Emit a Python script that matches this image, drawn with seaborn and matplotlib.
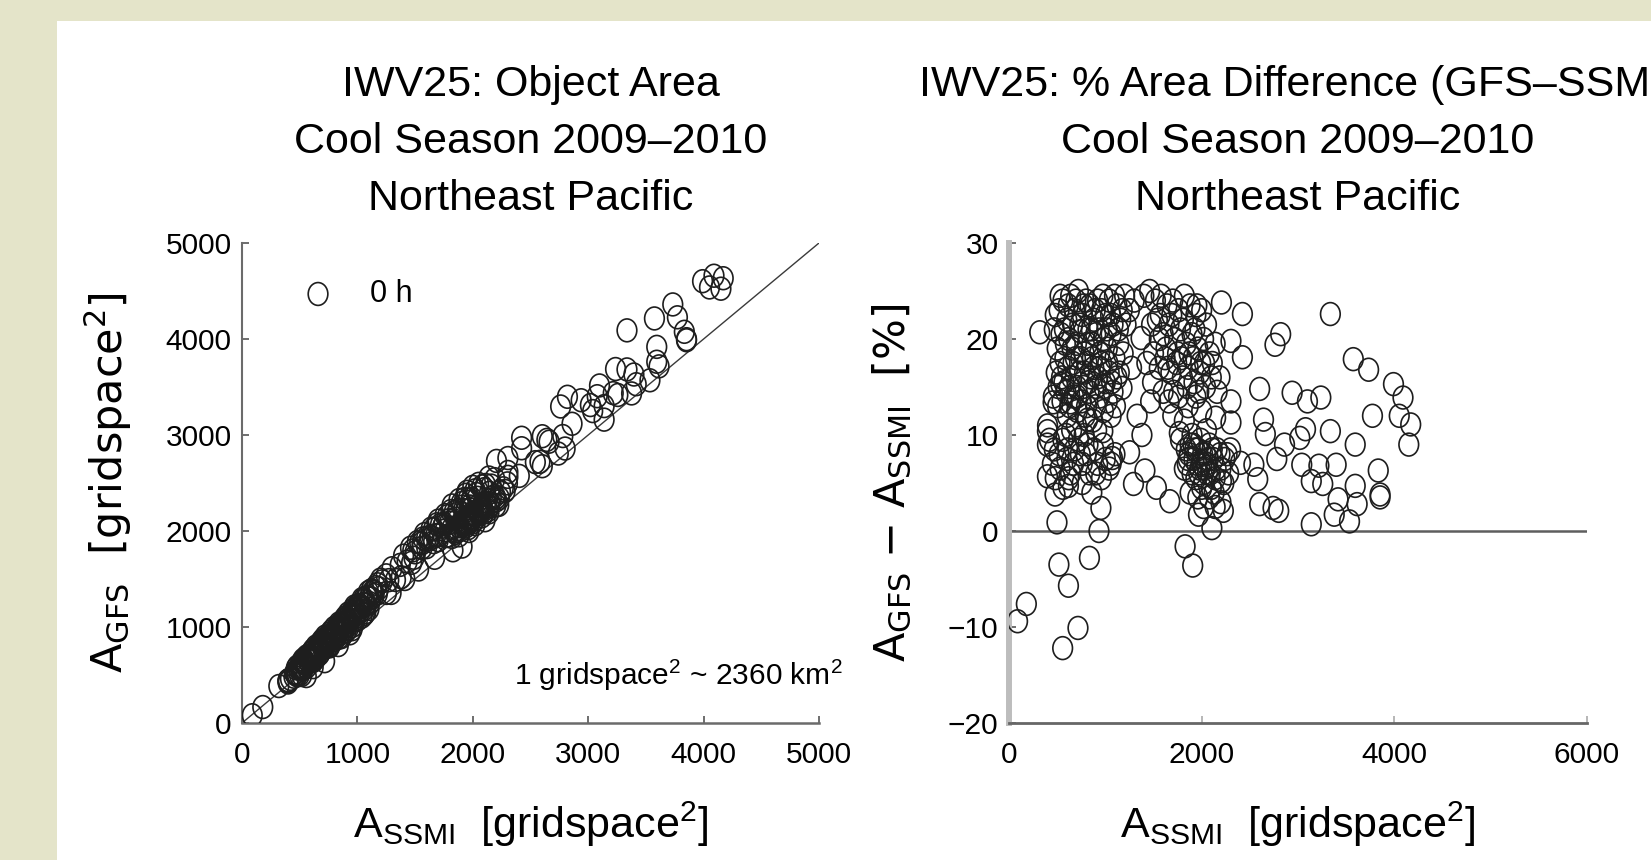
import matplotlib
matplotlib.use("Agg")
import matplotlib.pyplot as plt
import seaborn as sns
import pandas as pd
from matplotlib.path import Path
from matplotlib.transforms import Affine2D
from matplotlib.patches import Rectangle

# ---------------- data ----------------
# A_SSMI object area [gridspace^2]
ssmi = [
    470, 520, 560, 600, 640, 680, 720, 760, 800, 500, 540, 580, 620, 660, 700, 740, 780, 820,
    490, 530, 570, 610, 650, 690, 730, 770, 810, 850, 460, 510, 550, 590, 630, 670, 710, 750, 790, 830,
    840, 880, 920, 960, 1000, 1040, 1080, 1120, 1160, 1200, 1250, 1300,
    860, 900, 940, 980, 1020, 1060, 1100, 1140, 880, 920, 960, 1000, 1040, 1080, 1120,
    900, 940, 980, 1020, 1060, 870, 910,
    480, 530, 575, 615, 655, 695, 735, 775, 815, 855, 895, 935, 975, 1015, 1055, 1095, 1135, 1175, 1215,
    545, 585, 625, 665, 705, 745, 785, 825, 865, 905, 945, 985, 1025, 1065,
    505, 605, 705, 805, 1105, 1145, 1185,
    1400, 1460, 1520, 1580, 1640, 1700, 1760, 1820, 1880, 1940, 2000,
    1480, 1540, 1600, 1660, 1720, 1780, 1840, 1900, 1960, 2020, 2080, 2140,
    1500, 1560, 1620, 1680, 1740, 1800, 1860, 1920, 1980, 2040, 2100, 2160,
    1600, 1660, 1760, 1860, 1940, 2000, 1700, 1820,
    1570, 1630, 1690, 1750, 1810, 1870, 1930, 1990, 2050, 1650,
    1710, 1790, 1850, 1910, 1970, 2030, 2110, 2190, 1560, 1950,
    1780, 1840, 1880, 1920, 1960, 2000, 2040, 2080, 2120, 2160,
    1820, 1860, 1900, 1940, 1980, 2020, 2060, 2100, 2140, 2200, 2240, 2280,
    1880, 1960, 2020, 2080, 2140, 2200, 1900, 2050, 2300,
    1870, 1910, 1950, 1990, 2010, 2030, 2070, 2110, 2150, 2190,
    1930, 1970, 2050, 2090, 1850, 2230, 2000, 2130,
    400, 420, 450, 480, 520, 560, 600, 640, 680, 720, 760, 800, 840, 880, 920, 960, 1000, 1040, 1100,
    650, 700, 780, 560, 620, 760, 860,
    470, 530, 590, 670, 740, 820, 900, 980, 1060, 610,
    3336, 319, 2205, 2423, 2820, 2761, 2423, 3574, 3733, 3991,
    4090, 3773, 4051, 4170, 4150, 2602, 2939, 3098, 3237, 3336,
    3594, 2642, 2661, 2860, 3019, 3078, 2780, 3039, 3217, 3396,
    3833, 3852, 3852, 3594, 3416, 3614, 3376, 3535, 3138, 3138,
    3257, 2582, 2542, 2602, 2741, 2800, 2403, 2264, 2205, 2225,
    2106, 1967, 1828, 1907, 1669, 1530, 1411, 1292, 1252, 1073,
    954, 934, 835, 498, 518, 617, 180, 89, 716, 557,
    478, 399, 617, 399, 399, 458, 538, 637, 815, 974,
    1768, 2304, 2304, 2145, 1470, 1490, 1173, 1272, 1431, 1371,
    2304, 1330, 1380,
]

# A_GFS object area [gridspace^2]
gfs = [
    569, 640, 694, 732, 797, 836, 900, 931, 992, 595, 651, 684, 744, 802, 837, 894, 924, 992,
    571, 623, 658, 714, 754, 814, 850, 886, 952, 986, 524, 587, 624, 676, 712, 764, 799, 851, 885, 950,
    1037, 1074, 1141, 1181, 1225, 1290, 1312, 1383, 1415, 1494, 1538, 1612,
    1028, 1085, 1114, 1176, 1214, 1277, 1298, 1362, 1030, 1067, 1128, 1155, 1212, 1237, 1299,
    1017, 1072, 1103, 1158, 1187, 970, 1006,
    588, 660, 696, 760, 779, 862, 893, 957, 974, 1035, 1101, 1131, 1214, 1228, 1292, 1363, 1373, 1445, 1476,
    632, 699, 719, 781, 811, 879, 915, 953, 1021, 1041, 1106, 1133, 1204, 1230,
    571, 678, 804, 910, 1249, 1334, 1404,
    1743, 1825, 1885, 1967, 2025, 2108, 2165, 2266, 2322, 2377, 2460,
    1798, 1879, 1928, 2017, 2064, 2154, 2199, 2290, 2332, 2424, 2465, 2557,
    1778, 1825, 1912, 1957, 2045, 2088, 2176, 2218, 2307, 2346, 2436, 2473,
    1832, 1884, 2006, 2102, 2212, 2250, 1904, 2029,
    1923, 1940, 2070, 2074, 2208, 2216, 2335, 2338, 2491, 1931,
    1958, 2112, 2128, 2254, 2256, 2385, 2479, 2540, 1872, 2408,
    1949, 1996, 2049, 2064, 2127, 2140, 2203, 2267, 2279, 2344,
    1938, 2000, 2014, 2047, 2109, 2121, 2184, 2195, 2258, 2343, 2408, 2417,
    1955, 2029, 2071, 2153, 2194, 2266, 2090, 2265, 2496,
    2020, 2082, 2087, 2179, 2171, 2162, 2225, 2289, 2290, 2365,
    2094, 2088, 2194, 2215, 1980, 2342, 2090, 2215,
    444, 460, 482, 506, 562, 613, 645, 678, 738, 788, 813, 864, 890, 955, 984, 1013, 1075, 1108, 1188,
    718, 777, 858, 585, 654, 798, 894,
    510, 564, 649, 717, 799, 894, 954, 1068, 1134, 662,
    4090, 385, 2730, 2971, 3398, 3297, 2862, 4214, 4360, 4602,
    4659, 4226, 4537, 4633, 4524, 2987, 3362, 3516, 3687, 3683,
    3918, 2949, 2930, 3117, 3312, 3404, 2989, 3249, 3436, 3630,
    4075, 3998, 3987, 3763, 3529, 3715, 3433, 3570, 3160, 3301,
    3417, 2721, 2717, 2675, 2807, 2859, 2574, 2445, 2320, 2272,
    2112, 2000, 1799, 1838, 1721, 1599, 1500, 1355, 1355, 1155,
    977, 934, 812, 503, 500, 582, 166, 81, 644, 489,
    496, 422, 646, 435, 441, 519, 620, 722, 910, 1075,
    1948, 2615, 2564, 2398, 1669, 1721, 1348, 1488, 1681, 1647,
    2760, 1490, 1518,
]

# % area difference (GFS - SSMI)
pct = [
    21, 23, 24, 22, 24.5, 23, 25, 22.5, 24, 19, 20.5, 18, 20, 21.5, 19.5, 20.8, 18.5, 21,
    16.5, 17.5, 15.5, 17, 16, 18, 16.5, 15, 17.5, 16, 14, 15, 13.5, 14.5, 13, 14, 12.5, 13.5, 12, 14.5,
    23.5, 22, 24, 23, 22.5, 24, 21.5, 23.5, 22, 24.5, 23, 24,
    19.5, 20.5, 18.5, 20, 19, 20.5, 18, 19.5, 17, 16, 17.5, 15.5, 16.5, 14.5, 16,
    13, 14, 12.5, 13.5, 12, 11.5, 10.5,
    22.5, 24.5, 21, 23.5, 19, 24, 21.5, 23.5, 19.5, 21, 23, 21, 24.5, 21, 22.5, 24.5, 21, 23, 21.5,
    16, 19.5, 15, 17.5, 15, 18, 16.5, 15.5, 18, 15, 17, 15, 17.5, 15.5,
    13, 12, 14, 13, 13, 16.5, 18.5,
    24.5, 25, 24, 24.5, 23.5, 24, 23, 24.5, 23.5, 22.5, 23,
    21.5, 22, 20.5, 21.5, 20, 21, 19.5, 20.5, 19, 20, 18.5, 19.5,
    18.5, 17, 18, 16.5, 17.5, 16, 17, 15.5, 16.5, 15, 16, 14.5,
    14.5, 13.5, 14, 13, 14, 12.5, 12, 11.5,
    22.5, 19, 22.5, 18.5, 22, 18.5, 21, 17.5, 21.5, 17,
    14.5, 18, 15, 18, 14.5, 17.5, 17.5, 16, 20, 23.5,
    9.5, 8.5, 9, 7.5, 8.5, 7, 8, 9, 7.5, 8.5,
    6.5, 7.5, 6, 5.5, 6.5, 5, 6, 4.5, 5.5, 6.5, 7.5, 6,
    4, 3.5, 2.5, 3.5, 2.5, 3, 10, 10.5, 8.5,
    8, 9, 7, 9.5, 8, 6.5, 7.5, 8.5, 6.5, 8,
    8.5, 6, 7, 6, 7, 5, 4.5, 4,
    11, 9.5, 7, 5.5, 8, 9.5, 7.5, 6, 8.5, 9.5, 7, 8, 6, 8.5, 7, 5.5, 7.5, 6.5, 8,
    10.5, 11, 10, 4.5, 5.5, 5, 4,
    8.5, 6.5, 10, 7, 8, 9, 6, 9, 7, 8.5,
    22.6, 20.7, 23.8, 22.6, 20.5, 19.4, 18.1, 17.9, 16.8, 15.3,
    13.9, 12.0, 12.0, 11.1, 9.0, 14.8, 14.4, 13.5, 13.9, 10.4,
    9.0, 11.6, 10.1, 9.0, 9.7, 10.6, 7.5, 6.9, 6.8, 6.9,
    6.3, 3.8, 3.5, 4.7, 3.3, 2.8, 1.7, 1.0, 0.7, 5.2,
    4.9, 5.4, 6.9, 2.8, 2.4, 2.1, 7.1, 8.0, 5.2, 2.1,
    0.3, 1.7, -1.6, -3.6, 3.1, 4.5, 6.3, 4.9, 8.2, 7.6,
    2.4, 0.0, -2.8, 0.9, -3.5, -5.7, -7.6, -9.4, -10.1, -12.2,
    3.8, 5.7, 4.7, 9.0, 10.4, 13.4, 15.3, 13.4, 11.6, 10.4,
    10.2, 13.5, 11.3, 11.8, 13.5, 15.5, 14.9, 17.0, 17.5, 20.1,
    19.8, 12.0, 10.0,
]

left_ticks = [0, 1000, 2000, 3000, 4000, 5000]
right_xticks = [0, 2000, 4000, 6000]
right_yticks = [-20, -10, 0, 10, 20, 30]

title_left = "IWV25: Object Area\nCool Season 2009\u20132010\nNortheast Pacific"
title_right = "IWV25: % Area Difference (GFS\u2013SSMI)\nCool Season 2009\u20132010\nNortheast Pacific"
xlabel = r"$\mathregular{A_{SSMI}}$  [gridspace$\mathregular{^2}$]"
ylabel_left = r"$\mathregular{A_{GFS}}$  [gridspace$\mathregular{^2}$]"
ylabel_right = r"$\mathregular{A_{GFS}}$ " + "\u2212" + r" $\mathregular{A_{SSMI}}$  [%]"
note = r"1 gridspace$\mathregular{^2}$ ~ 2360 km$\mathregular{^2}$"
legend_label = "0 h"

df = pd.DataFrame({"ssmi": ssmi, "gfs": gfs, "pct": pct})

# ---------------- style ----------------
sns.set_style("ticks")
plt.rcParams["font.family"] = ["Liberation Sans", "DejaVu Sans"]
plt.rcParams["axes.unicode_minus"] = True
plt.rcParams["text.color"] = "black"
plt.rcParams["axes.labelcolor"] = "black"

W, H = 1651, 860
fig = plt.figure(figsize=(W / 100, H / 100), dpi=100)
fig.patch.set_facecolor("#e4e4c9")
fig.patches.append(Rectangle((57 / W, 0), 1, 1 - 21 / H, transform=fig.transFigure,
                             facecolor="white", edgecolor="none", zorder=-10))

ax1 = fig.add_axes([242 / W, 1 - 723 / H, 577 / W, 480 / H])
ax2 = fig.add_axes([1009 / W, 1 - 723 / H, 578 / W, 480 / H])

ell = Affine2D().scale(0.86, 1.0).transform_path(Path.unit_circle())
mkw = dict(marker=ell, s=270, facecolors="none", edgecolor="#1e1e1e", linewidth=1.2, zorder=3)

sns.scatterplot(data=df, x="ssmi", y="gfs", ax=ax1, label=legend_label, **mkw)
sns.scatterplot(data=df, x="ssmi", y="pct", ax=ax2, **mkw)

ax1.axline((0, 0), slope=1, color="#3a3a3a", lw=1.0, zorder=2)
ax2.axhline(0, color="#5e5e5e", lw=1.8, zorder=2)

ax1.set_xlim(0, 5000)
ax1.set_ylim(0, 5000)
ax1.set_xticks(left_ticks)
ax1.set_yticks(left_ticks)
ax2.set_xlim(0, 6000)
ax2.set_ylim(-20, 30)
ax2.set_xticks(right_xticks)
ax2.set_yticks(right_yticks)

for ax in (ax1, ax2):
    ax.spines["top"].set_visible(False)
    ax.spines["right"].set_visible(False)
    ax.tick_params(direction="in", length=5, width=1.2, colors="#555555",
                   labelcolor="black", labelsize=21.5, top=False, right=False,
                   bottom=True, left=True)
    ax.tick_params(axis="x", pad=13)
    ax.tick_params(axis="y", pad=7.5)
    ax.set_facecolor("white")

ax1.spines["left"].set(color="#6b6b6b", linewidth=1.5)
ax1.spines["bottom"].set(color="#6b6b6b", linewidth=1.8)
ax2.spines["left"].set(color="#bdbdbd", linewidth=4.3)
ax2.spines["bottom"].set(color="#666666", linewidth=2.0)
ax2.tick_params(axis="x", colors="#aaaaaa", labelcolor="black")

for ax, t in ((ax1, title_left), (ax2, title_right)):
    ax.set_title(t, fontsize=31, linespacing=1.55, va="bottom", pad=17, color="black")
    ax.set_xlabel(xlabel, fontsize=31, va="baseline")
    ax.xaxis.set_label_coords(0.5, (723 - 838) / 480)

ax1.set_ylabel(ylabel_left, fontsize=31, family=["DejaVu Sans"], va="baseline")
ax1.yaxis.set_label_coords((123 - 242) / 577, 0.5)
ax2.set_ylabel(ylabel_right, fontsize=31, family=["DejaVu Sans"], va="baseline")
ax2.yaxis.set_label_coords((905 - 1009) / 578, 0.5)

ax1.text((843 - 242) / 577, (723 - 685) / 480, note, transform=ax1.transAxes,
         ha="right", va="baseline", fontsize=21.5)

ax1.legend(loc="upper left", bbox_to_anchor=(0.10, 0.925), frameon=False, fontsize=22,
           handletextpad=1.1, handlelength=1.2, borderaxespad=0, borderpad=0)

fig.savefig("out.png", dpi=100, facecolor=fig.get_facecolor())
